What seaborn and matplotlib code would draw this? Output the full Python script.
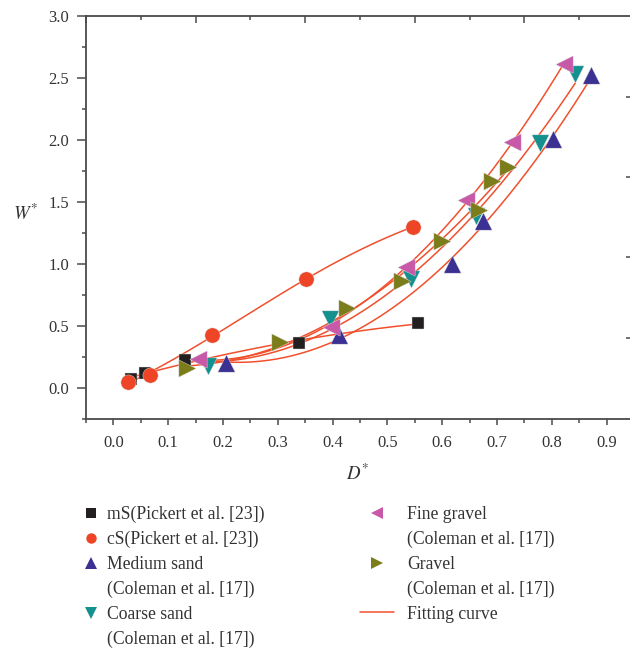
import numpy as np
import pandas as pd
import matplotlib
matplotlib.use("Agg")
import matplotlib.pyplot as plt
from matplotlib.lines import Line2D
import seaborn as sns

# ---------------- data ----------------
ms_x = [0.032, 0.058, 0.131, 0.338, 0.556]
ms_y = [0.070, 0.118, 0.226, 0.366, 0.522]

cs_x = [0.026, 0.066, 0.180, 0.352, 0.547]
cs_y = [0.051, 0.102, 0.427, 0.877, 1.301]

med_x = [0.205, 0.412, 0.618, 0.675, 0.802, 0.872]
med_y = [0.199, 0.427, 1.000, 1.349, 2.006, 2.524]

coarse_x = [0.172, 0.395, 0.543, 0.661, 0.778, 0.843]
coarse_y = [0.180, 0.554, 0.877, 1.387, 1.978, 2.532]

fine_x = [0.154, 0.397, 0.534, 0.644, 0.728, 0.823]
fine_y = [0.231, 0.494, 0.978, 1.516, 1.986, 2.610]

grav_x = [0.135, 0.304, 0.427, 0.526, 0.600, 0.667, 0.690, 0.720]
grav_y = [0.159, 0.373, 0.648, 0.866, 1.188, 1.435, 1.672, 1.780]

labels = ["mS(Pickert et al. [23])", "cS(Pickert et al. [23])",
          "Medium sand", "Coarse sand", "Fine gravel", "Gravel"]
cont_label = "(Coleman et al. [17])"
fit_label = "Fitting curve"

xticks = [0.0, 0.1, 0.2, 0.3, 0.4, 0.5, 0.6, 0.7, 0.8, 0.9]
yticks = [0.0, 0.5, 1.0, 1.5, 2.0, 2.5, 3.0]

# ---------------- style ----------------
sns.set_theme(style="ticks")
plt.rcParams["font.family"] = ["Liberation Serif", "DejaVu Serif"]
plt.rcParams["mathtext.fontset"] = "stix"

C_BLACK = "#231f20"
C_RED = "#ee4526"
C_NAVY = "#3b3192"
C_TEAL = "#14908e"
C_PINK = "#c858a8"
C_OLIVE = "#7b7d1a"
C_FIT = "#f0502d"
C_AX = "#4a4a4a"
C_TXT = "#333333"

# (x, y, marker, colour, size, fit model)
series = [
    (ms_x, ms_y, "s", C_BLACK, 80, "poly2"),
    (cs_x, cs_y, "o", C_RED, 120, "logistic"),
    (med_x, med_y, "^", C_NAVY, 155, "poly2"),
    (coarse_x, coarse_y, "v", C_TEAL, 155, "poly2"),
    (fine_x, fine_y, "<", C_PINK, 155, "poly2"),
    (grav_x, grav_y, ">", C_OLIVE, 155, "poly2"),
]


def logistic_fit(xa, ya, xx):
    """Least-squares fit of y = y0 + A / (1 + exp(-k (x - x0)))."""
    best = None
    for k in np.linspace(3, 30, 109):
        for x0 in np.linspace(0.05, 0.5, 91):
            g = 1.0 / (1.0 + np.exp(-k * (xa - x0)))
            M = np.column_stack([np.ones_like(g), g])
            sol, *_ = np.linalg.lstsq(M, ya, rcond=None)
            r = np.sum((M @ sol - ya) ** 2)
            if best is None or r < best[0]:
                best = (r, k, x0, sol)
    _, k, x0, sol = best
    return sol[0] + sol[1] / (1.0 + np.exp(-k * (xx - x0)))


fig = plt.figure(figsize=(6.30, 6.52), dpi=100)
ax = fig.add_axes([86 / 630, 1 - 419 / 652, 548 / 630, 403 / 652])

# fitting curves (least-squares fits of the data)
for x, y, m, c, s, model in series:
    xa = np.asarray(x, dtype=float)
    ya = np.asarray(y, dtype=float)
    xx = np.linspace(xa.min(), xa.max(), 200)
    if model == "logistic":
        yy = logistic_fit(xa, ya, xx)
    else:
        coef = np.polyfit(xa, ya, int(model[-1]))
        yy = np.polyval(coef, xx)
    df = pd.DataFrame({"x": xx, "y": yy})
    sns.lineplot(data=df, x="x", y="y", ax=ax, color=C_FIT, lw=1.1,
                 sort=False, zorder=3)

for x, y, m, c, s, model in series:
    sns.scatterplot(x=x, y=y, marker=m, color=c, s=s, linewidth=0.3,
                    edgecolor="#dddddd", ax=ax, zorder=4)

ax.set_xlim(-0.05, 0.95)
ax.set_ylim(-0.25, 3.0)
ax.set_xticks(xticks)
ax.set_xticklabels([f"{v:.1f}" for v in xticks])
ax.set_yticks(yticks)
ax.set_yticklabels([f"{v:.1f}" for v in yticks])
ax.set_xticks(np.arange(-0.05, 0.95, 0.1), minor=True)
ax.set_yticks(np.arange(-0.25, 3.0, 0.5), minor=True)

ax.tick_params(axis="x", which="major", direction="out", length=4, width=1.1,
               color=C_AX, labelsize=11.9, labelcolor=C_TXT, pad=7.5)
ax.tick_params(axis="x", which="minor", direction="out", length=3, width=1.1,
               color=C_AX)
ax.tick_params(axis="y", which="major", direction="out", length=6.3, width=1.1,
               color=C_AX, labelsize=11.9, labelcolor=C_TXT, pad=6)
ax.tick_params(axis="y", which="minor", direction="out", length=3, width=1.1,
               color=C_AX)
ax.tick_params(top=False, right=False)

for sp in ["left", "bottom", "top"]:
    ax.spines[sp].set_visible(True)
    ax.spines[sp].set_color(C_AX)
    ax.spines[sp].set_linewidth(1.3)
ax.spines["right"].set_visible(False)

# top ticks (inward)
axt = ax.twiny()
axt.set_xlim(ax.get_xlim())
axt.set_xticks(np.arange(-0.05, 0.95, 0.2))
axt.set_xticks(np.arange(0.05, 0.95, 0.2), minor=True)
axt.tick_params(axis="x", which="major", direction="in", length=5, width=1.1,
                color=C_AX, labeltop=False)
axt.tick_params(axis="x", which="minor", direction="in", length=3, width=1.1,
                color=C_AX)
for sp in axt.spines.values():
    sp.set_visible(False)

# right ticks (inward)
axr = ax.twinx()
axr.set_ylim(ax.get_ylim())
axr.set_yticks([0.403, 1.056, 1.702, 2.347])
axr.tick_params(axis="y", which="major", direction="in", length=6, width=1.1,
                color=C_AX, labelright=False)
for sp in axr.spines.values():
    sp.set_visible(False)

ax.set_xlabel(r"$D^{*}$", fontsize=13.5, color=C_TXT)
ax.xaxis.set_label_coords(0.496, -0.11)
ax.set_ylabel(r"$W^{*}$", fontsize=13.5, color=C_TXT, rotation=0,
              va="center", ha="center")
ax.yaxis.set_label_coords(-0.11, 0.508)

# ---------------- legends ----------------
blank = Line2D([], [], linestyle="none", marker=None)
def mk(m, c, ms):
    return Line2D([], [], linestyle="none", marker=m, color=c, markersize=ms,
                  markeredgewidth=0)

left_h = [mk("s", C_BLACK, 6.5), mk("o", C_RED, 7.5), mk("^", C_NAVY, 8.5),
          blank, mk("v", C_TEAL, 8.5), blank]
left_l = [labels[0], labels[1], labels[2], cont_label, labels[3], cont_label]
right_h = [mk("<", C_PINK, 8.5), blank, mk(">", C_OLIVE, 8.5), blank,
           Line2D([], [], color=C_FIT, lw=1.1)]
right_l = [labels[4], cont_label, labels[5], cont_label, fit_label]

H = 652.0
leg1 = fig.legend(left_h, left_l, loc="upper left",
                  bbox_to_anchor=(82 / 630, 1 - 506 / H), frameon=False,
                  fontsize=12.7, handlelength=1.0, handletextpad=0.4,
                  labelspacing=0.44, borderpad=0, borderaxespad=0,
                  labelcolor=C_TXT)
leg2 = fig.legend(right_h, right_l, loc="upper left",
                  bbox_to_anchor=(360 / 630, 1 - 506 / H), frameon=False,
                  fontsize=12.7, handlelength=1.93, handletextpad=0.74,
                  labelspacing=0.44, borderpad=0, borderaxespad=0,
                  labelcolor=C_TXT)

fig.savefig("out.png", dpi=100)
